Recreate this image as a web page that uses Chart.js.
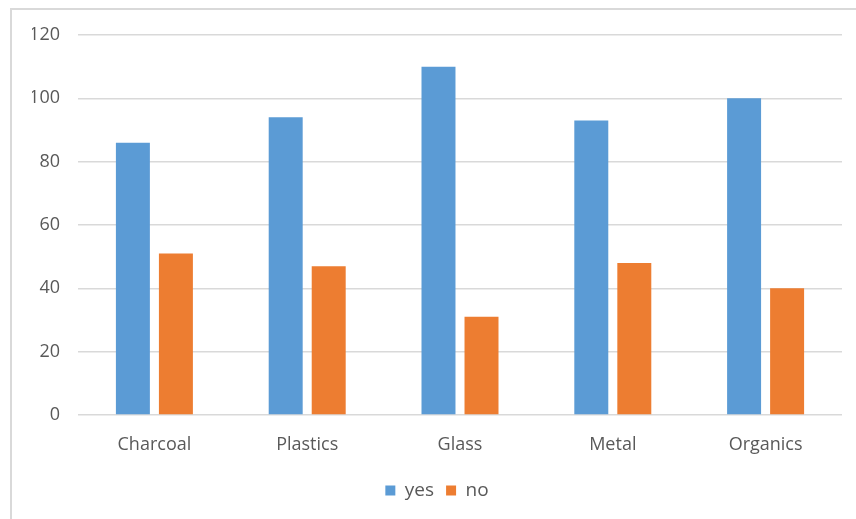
<!DOCTYPE html>
<html>
<head>
<meta charset="utf-8">
<script src="https://cdn.jsdelivr.net/npm/chart.js@4.4.1/dist/chart.umd.min.js"></script>
<style>
  body { margin: 0; background: #fff; }
  #frame {
    position: absolute; left: 10px; top: 8px;
    width: 860px; height: 520px;
    border-left: 2px solid #d9d9d9; border-top: 2px solid #d9d9d9;
  }
  #chart { display: block; }
</style>
</head>
<body>
<div id="frame"><canvas id="chart" width="844" height="509"></canvas></div>
<script>
// chart data
const categories = ['Charcoal', 'Plastics', 'Glass', 'Metal', 'Organics'];
const yesValues = [86, 94, 110, 93, 100];
const noValues = [51, 47, 31, 48, 40];

const tickColor = '#595959';
const fontFamily = '"Open Sans", Lato, sans-serif';

new Chart(document.getElementById('chart'), {
  type: 'bar',
  data: {
    labels: categories,
    datasets: [
      { label: 'yes', data: yesValues, backgroundColor: '#5B9BD5' },
      { label: 'no', data: noValues, backgroundColor: '#ED7D31' }
    ]
  },
  options: {
    responsive: false,
    animation: false,
    categoryPercentage: 0.563,
    barPercentage: 0.79,
    layout: { padding: { top: 25, right: 14, bottom: 9, left: 20 } },
    scales: {
      x: {
        grid: { display: false, drawTicks: false },
        border: { display: false },
        ticks: { color: tickColor, font: { family: fontFamily, size: 18 }, padding: 19 },
        afterFit(scale) { scale.height = 54; }
      },
      y: {
        min: 0,
        max: 120,
        grid: { color: '#d9d9d9', lineWidth: 1.5, drawTicks: false },
        border: { display: false },
        ticks: { stepSize: 20, color: tickColor, font: { family: fontFamily, size: 18 }, padding: 18 },
        afterFit(scale) {
          scale.width = 46;
          // keep the top label from pushing the plot area down
          scale.paddingTop = 0;
          scale.paddingBottom = 0;
        }
      }
    },
    plugins: {
      legend: {
        position: 'bottom',
        labels: {
          color: tickColor,
          font: { family: fontFamily, size: 19 },
          boxWidth: 10,
          boxHeight: 10,
          padding: 12
        }
      },
      tooltip: { enabled: false }
    }
  }
});
</script>
</body>
</html>
